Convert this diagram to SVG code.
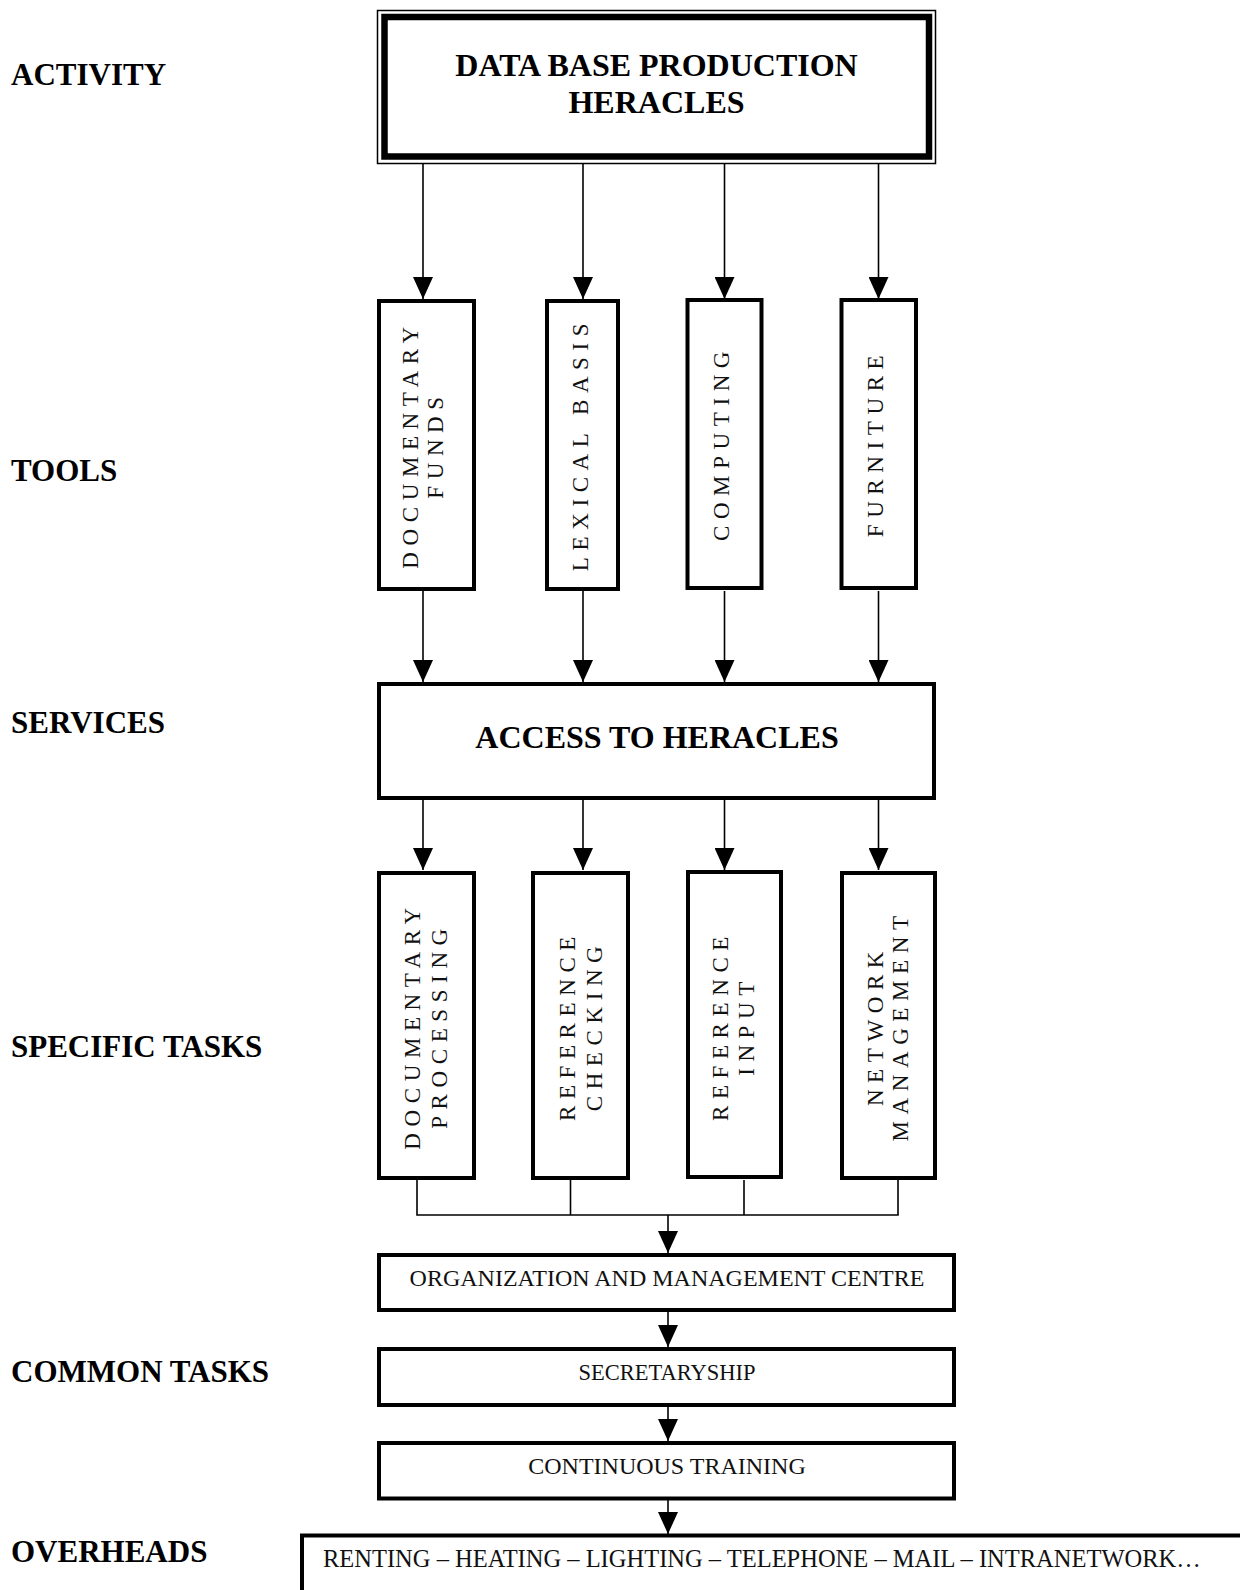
<svg xmlns="http://www.w3.org/2000/svg" width="1240" height="1590" viewBox="0 0 1240 1590">
  <style>
    .bg { fill: #ffffff; }
    .box { fill: #ffffff; stroke: #000000; stroke-width: 4; }
    .thin { fill: none; stroke: #000000; stroke-width: 1.5; }
    .heavy { fill: none; stroke: #000000; stroke-width: 6.5; }
    .wire { fill: none; stroke: #000000; stroke-width: 1.6; }
    .arrow { fill: none; stroke: #000000; stroke-width: 1.6; marker-end: url(#head); }
    .label { font-family: "Liberation Serif", "Times New Roman", serif; font-weight: bold; font-size: 31px; fill: #000000; }
    .title { font-family: "Liberation Serif", "Times New Roman", serif; font-weight: bold; font-size: 32px; fill: #000000; text-anchor: middle; }
    .plain { font-family: "Liberation Serif", "Times New Roman", serif; font-size: 24px; fill: #111111; }
    .mid { text-anchor: middle; }
    .vert { font-family: "Liberation Serif", "Times New Roman", serif; font-size: 23px; letter-spacing: 6.6px; fill: #111111; text-anchor: middle; }
  </style>
  <defs>
    <marker id="head" viewBox="0 0 22 20" refX="22" refY="10" markerWidth="22" markerHeight="20" markerUnits="userSpaceOnUse" orient="auto">
      <path d="M0,0 L22,10 L0,20 Z" fill="#000000"/>
    </marker>
  </defs>

  <rect class="bg" x="0" y="0" width="1240" height="1590"/>

  <!-- level captions on the left -->
  <g id="captions">
    <text class="label" x="11" y="85">ACTIVITY</text>
    <text class="label" x="11" y="481">TOOLS</text>
    <text class="label" x="11" y="733">SERVICES</text>
    <text class="label" x="11" y="1057">SPECIFIC TASKS</text>
    <text class="label" x="11" y="1382">COMMON TASKS</text>
    <text class="label" x="11" y="1562">OVERHEADS</text>
  </g>

  <!-- connectors -->
  <g id="connectors">
    <!-- activity to tools -->
    <line class="arrow" x1="423" y1="164" x2="423" y2="299"/>
    <line class="arrow" x1="583" y1="164" x2="583" y2="299"/>
    <line class="arrow" x1="724.5" y1="164" x2="724.5" y2="299"/>
    <line class="arrow" x1="878.5" y1="164" x2="878.5" y2="299"/>
    <!-- tools to services -->
    <line class="arrow" x1="423" y1="591" x2="423" y2="682"/>
    <line class="arrow" x1="583" y1="591" x2="583" y2="682"/>
    <line class="arrow" x1="724.5" y1="591" x2="724.5" y2="682"/>
    <line class="arrow" x1="878.5" y1="591" x2="878.5" y2="682"/>
    <!-- services to specific tasks -->
    <line class="arrow" x1="423" y1="800" x2="423" y2="870"/>
    <line class="arrow" x1="583" y1="800" x2="583" y2="870"/>
    <line class="arrow" x1="724.5" y1="800" x2="724.5" y2="870"/>
    <line class="arrow" x1="878.5" y1="800" x2="878.5" y2="870"/>
    <!-- specific tasks merged into common tasks -->
    <path class="wire" d="M417,1180 V1215 H898 V1180 M570.5,1180 V1215 M744,1180 V1215"/>
    <line class="arrow" x1="668" y1="1215" x2="668" y2="1253"/>
    <line class="arrow" x1="668" y1="1312" x2="668" y2="1347"/>
    <line class="arrow" x1="668" y1="1406" x2="668" y2="1441"/>
    <line class="arrow" x1="668" y1="1500" x2="668" y2="1534"/>
  </g>

  <!-- activity -->
  <g id="activity">
    <rect class="thin" x="377.5" y="10.5" width="558" height="153"/>
    <rect class="heavy" x="384.5" y="17" width="544.5" height="139.5" fill="#ffffff"/>
    <text class="title" x="656.5" y="76">DATA BASE PRODUCTION</text>
    <text class="title" x="656.5" y="112.5">HERACLES</text>
  </g>

  <!-- tools -->
  <g id="tool-documentary-funds">
    <rect class="box" x="379" y="301" width="95" height="288"/>
    <text class="vert" transform="translate(417.5,444.5) rotate(-90)">DOCUMENTARY</text>
    <text class="vert" transform="translate(442.5,444.5) rotate(-90)">FUNDS</text>
  </g>
  <g id="tool-lexical-basis">
    <rect class="box" x="547" y="301" width="71" height="288"/>
    <text class="vert" transform="translate(587.5,444) rotate(-90)">LEXICAL BASIS</text>
  </g>
  <g id="tool-computing">
    <rect class="box" x="687.5" y="300" width="74" height="288"/>
    <text class="vert" transform="translate(728.5,443) rotate(-90)">COMPUTING</text>
  </g>
  <g id="tool-furniture">
    <rect class="box" x="841.5" y="300" width="74.5" height="288"/>
    <text class="vert" transform="translate(882.5,443) rotate(-90)">FURNITURE</text>
  </g>

  <!-- services -->
  <g id="service-access">
    <rect class="box" x="379" y="684" width="555" height="114"/>
    <text class="title" x="657" y="748">ACCESS TO HERACLES</text>
  </g>

  <!-- specific tasks -->
  <g id="task-documentary-processing">
    <rect class="box" x="379" y="873" width="95" height="305"/>
    <text class="vert" transform="translate(419.5,1025.5) rotate(-90)">DOCUMENTARY</text>
    <text class="vert" transform="translate(447,1025.5) rotate(-90)">PROCESSING</text>
  </g>
  <g id="task-reference-checking">
    <rect class="box" x="533" y="873" width="95" height="305"/>
    <text class="vert" transform="translate(574.5,1025.5) rotate(-90)">REFERENCE</text>
    <text class="vert" transform="translate(601.5,1025.5) rotate(-90)">CHECKING</text>
  </g>
  <g id="task-reference-input">
    <rect class="box" x="688" y="872" width="93" height="305"/>
    <text class="vert" transform="translate(728,1025.5) rotate(-90)">REFERENCE</text>
    <text class="vert" transform="translate(754,1025.5) rotate(-90)">INPUT</text>
  </g>
  <g id="task-network-management">
    <rect class="box" x="842" y="873" width="93" height="305"/>
    <text class="vert" transform="translate(882.5,1025.5) rotate(-90)">NETWORK</text>
    <text class="vert" transform="translate(907.5,1025.5) rotate(-90)">MANAGEMENT</text>
  </g>

  <!-- common tasks -->
  <g id="common-organization">
    <rect class="box" x="379" y="1255" width="575" height="55"/>
    <text class="plain mid" x="667" y="1286">ORGANIZATION AND MANAGEMENT CENTRE</text>
  </g>
  <g id="common-secretaryship">
    <rect class="box" x="379" y="1349" width="575" height="56"/>
    <text class="plain mid" x="667" y="1380" style="font-size:22.5px">SECRETARYSHIP</text>
  </g>
  <g id="common-training">
    <rect class="box" x="379" y="1443" width="575" height="55.5"/>
    <text class="plain mid" x="667" y="1474">CONTINUOUS TRAINING</text>
  </g>

  <!-- overheads -->
  <g id="overheads">
    <rect class="box" x="302" y="1535.5" width="1000" height="100"/>
    <text class="plain" x="323" y="1567" style="font-size:24.5px">RENTING – HEATING – LIGHTING – TELEPHONE – MAIL – INTRANETWORK…</text>
  </g>
</svg>
